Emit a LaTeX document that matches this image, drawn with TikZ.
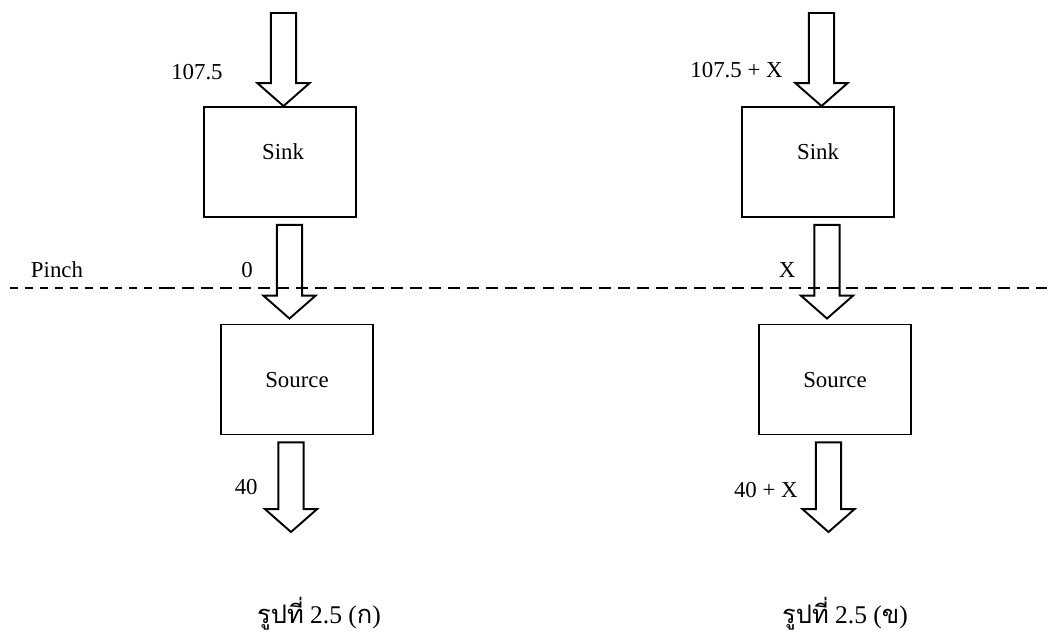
\documentclass[tikz,border=0pt]{standalone}
\usepackage{fontspec}
\setmainfont{Liberation Serif}
\newfontfamily\thaifont[Script=Thai]{Loma}
\usetikzlibrary{calc}

\tikzset{
  box/.style={draw, line width=1.1pt, minimum width=3.04cm, minimum height=2.2cm},
  flowline/.style={line width=1.1pt, line join=miter},
  val/.style={inner sep=0pt, font=\fontsize{13}{15}\selectfont},
  caption/.style={inner sep=0pt, anchor=base, font=\fontsize{14.5}{17}\selectfont},
  pinchthin/.style={line width=0.6pt, dash pattern=on 4.5pt off 4pt},
  pinchthick/.style={line width=1.7pt, dash pattern=on 6.8pt off 4pt},
}

% fat open arrow: #1 top of the shaft, #2 the tip
\newcommand{\heatflow}[2]{%
  \draw[flowline] let \p1=#1, \p2=#2 in
    (\x1-7.2pt,\y1) -- (\x1+7.2pt,\y1) -- (\x1+7.2pt,\y2+13pt) -- (\x1+14.8pt,\y2+13pt)
    -- (\x1,\y2) -- (\x1-14.8pt,\y2+13pt) -- (\x1-7.2pt,\y2+13pt) -- cycle;}

\begin{document}
\begin{tikzpicture}[x=0.02cm,y=-0.02cm]
  \useasboundingbox (0,0) rectangle (1056,639);

  % (a) pinch respected
  \node[box] (sinkA) at (280,162) {};
  \node[val] (sinkAname) at (283,152) {Sink};
  \node[box] (sourceA) at (297,379.5) {};
  \node[val] (sourceAname) at (297,380) {Source};
  \coordinate (inA) at (283.5,13);
  \coordinate (outA) at (291,532);
  \heatflow{(inA)}{(inA |- sinkA.north)}
  \heatflow{($(sinkA.south)+(9.5,7)$)}{($(sourceA.north)+(-7.5,-5)$)}
  \heatflow{($(sourceA.south)+(-6,7)$)}{(outA)}
  \node[val, anchor=east] (hotA) at (223,72) {107.5};
  \node[val] (crossA) at (247,270) {0};
  \node[val, anchor=east] (coldA) at (258,487) {40};
  \node[caption] (capA) at (319,623) {{\thaifont รูปที่} 2.5 ({\thaifont ก})};

  % (b) X carried across the pinch
  \node[box] (sinkB) at (818,162) {};
  \node[val] (sinkBname) at (818,152) {Sink};
  \node[box] (sourceB) at (835,379.5) {};
  \node[val] (sourceBname) at (835,380) {Source};
  \coordinate (inB) at (821.5,13);
  \coordinate (outB) at (828.5,532);
  \heatflow{(inB)}{(inB |- sinkB.north)}
  \heatflow{($(sinkB.south)+(9,7)$)}{($(sourceB.north)+(-8,-5)$)}
  \heatflow{($(sourceB.south)+(-6.5,7)$)}{(outB)}
  \node[val, anchor=east] (hotB) at (783,70) {107.5 + X};
  \node[val] (crossB) at (787,270) {X};
  \node[val, anchor=east] (coldB) at (798,490) {40 + X};
  \node[caption] (capB) at (845,623) {{\thaifont รูปที่} 2.5 ({\thaifont ข})};

  % pinch line
  \coordinate (pinchL) at (10,288);
  \coordinate (pinchM) at (163,288);
  \coordinate (pinchR) at (1047,288);
  \node[val] (pinch) at (57,270) {Pinch};
  \draw[pinchthin] (pinchL) -- (pinchM);
  \draw[pinchthick] (pinchM) -- (pinchR);
\end{tikzpicture}
\end{document}
